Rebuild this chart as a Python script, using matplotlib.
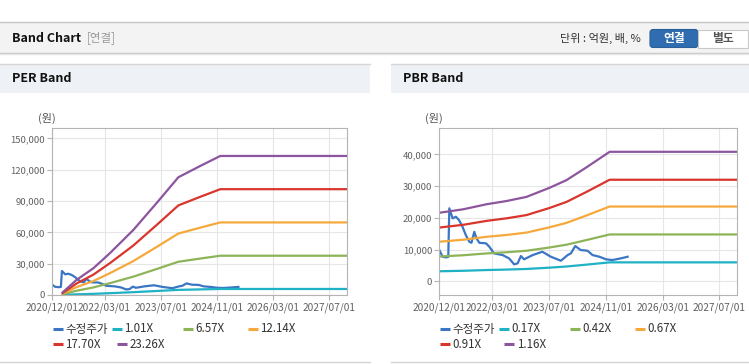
import matplotlib
matplotlib.use("Agg")
import matplotlib.pyplot as plt
from matplotlib.patches import Rectangle, FancyBboxPatch
import pandas as pd

plt.rcParams['font.family'] = ['Noto Sans CJK KR', 'DejaVu Sans']

W, H = 749, 364

# 수정주가 (같은 주가를 두 차트에 사용)
price_dates = ['2020-12-01', '2020-12-30', '2021-01-28', '2021-02-16', '2021-02-25',
               '2021-03-25', '2021-04-22', '2021-05-19', '2021-06-18', '2021-07-16',
               '2021-08-15', '2021-09-03', '2021-09-27', '2021-10-16', '2021-11-09',
               '2022-01-06', '2022-02-03', '2022-03-16', '2022-05-28', '2022-07-22',
               '2022-09-04', '2022-10-04', '2022-11-01', '2022-11-28', '2023-02-10',
               '2023-05-04', '2023-07-16', '2023-10-10', '2023-12-07', '2024-01-04',
               '2024-02-10', '2024-03-28', '2024-05-25', '2024-07-07', '2024-09-04',
               '2024-11-01', '2024-12-25', '2025-03-07', '2025-05-04']
price_vals = [9860, 7750, 7550, 7700, 23000,
              19840, 20350, 19300, 17200, 14600,
              12500, 12150, 15600, 13550, 12150,
              11970, 10900, 8800, 8280, 7240,
              5350, 5670, 7970, 6930, 8280,
              9320, 7750, 6490, 8280, 8820,
              11120, 9860, 9640, 8280, 7750,
              6930, 6710, 7240, 7750]

# PER band
per_dates = ['2021-03-04', '2021-07-01', '2021-11-24', '2022-04-16', '2022-08-10',
             '2022-11-06', '2023-05-25', '2023-12-01', '2024-06-07', '2024-11-28',
             '2027-12-01']
per_labels = ['1.01X', '6.57X', '12.14X', '17.70X', '23.26X']
per_101 = [110, 630, 1110, 1740, 2290, 2710, 3820, 4900, 5370, 5780, 5780]
per_657 = [720, 4070, 7230, 11300, 14890, 17610, 24830, 31860, 34910, 37630, 37630]
per_1214 = [1340, 7530, 13350, 20880, 27510, 32540, 45890, 58880, 64510, 69530, 69530]
per_1770 = [1950, 10970, 19470, 30440, 40110, 47440, 66910, 85850, 94060, 101370, 101370]
per_2326 = [2560, 14420, 25590, 40010, 52710, 62340, 87920, 112810, 123600, 133210, 133210]

# PBR band
pbr_dates = ['2020-12-01', '2021-06-25', '2022-01-13', '2022-07-01', '2022-12-19',
             '2023-07-07', '2023-11-28', '2024-05-16', '2024-12-01', '2027-12-01']
pbr_labels = ['0.17X', '0.42X', '0.67X', '0.91X', '1.16X']
pbr_017 = [3170, 3330, 3560, 3710, 3900, 4320, 4680, 5260, 5980, 5980]
pbr_042 = [7820, 8220, 8800, 9160, 9630, 10680, 11550, 13000, 14770, 14770]
pbr_067 = [12480, 13110, 14040, 14610, 15360, 17040, 18430, 20740, 23560, 23560]
pbr_091 = [16940, 17810, 19060, 19850, 20870, 23140, 25030, 28160, 32000, 32000]
pbr_116 = [21600, 22700, 24300, 25300, 26600, 29500, 31900, 35900, 40800, 40800]

xtick_labels = ['2020/12/01', '2022/03/01', '2023/07/01', '2024/11/01', '2026/03/01', '2027/07/01']
per_yticks = [0, 30000, 60000, 90000, 120000, 150000]
pbr_yticks = [0, 10000, 20000, 30000, 40000]

price_color = '#3a76c4'
band_colors = ['#1fb1c4', '#8db458', '#f5a93c', '#d9352c', '#8c559d']


def px_axes(fig, x0, y0, x1, y1):
    return fig.add_axes([x0 / W, 1 - y1 / H, (x1 - x0) / W, (y1 - y0) / H])


def style_axes(ax, ylim, yticks):
    ax.set_xlim(pd.Timestamp('2020-12-01'), pd.Timestamp('2027-12-01'))
    ax.set_ylim(*ylim)
    ax.set_xticks(pd.to_datetime(xtick_labels, format='%Y/%m/%d'))
    ax.set_xticklabels(xtick_labels, fontsize=7.3)
    ax.set_yticks(yticks)
    ax.set_yticklabels([f"{v:,}" for v in yticks], fontsize=6.8)
    ax.grid(color='#e6e6e6', lw=0.8)
    ax.set_axisbelow(True)
    for s in ax.spines.values():
        s.set_color('#b4b4b4')
        s.set_linewidth(0.8)
    ax.tick_params(axis='both', color='#b4b4b4', labelcolor='#606060', length=3.5, width=0.8)
    ax.tick_params(axis='y', pad=1.5)
    ax.tick_params(axis='x', pad=2)


fig = plt.figure(figsize=(W / 100, H / 100), dpi=100)

# 배경 / 헤더 (픽셀 좌표)
bg = fig.add_axes([0, 0, 1, 1])
bg.set_xlim(0, W)
bg.set_ylim(H, 0)
bg.axis('off')

bg.add_patch(Rectangle((0, 22), W, 30.5, fc='#f3f3f3', ec='none'))
bg.plot([0, W], [22, 22], color='#c5c5c5', lw=1)
bg.plot([0, W], [52.5, 52.5], color='#c8c8c8', lw=1)
bg.plot([0, W], [53.5, 53.5], color='#e6e6e6', lw=1)
bg.text(12, 38, 'Band Chart', fontsize=9, fontweight='bold', color='#111111', va='center')
bg.text(87, 38, '[연결]', fontsize=8.3, color='#999999', va='center')
bg.text(641, 38, '단위 : 억원, 배, %', fontsize=8, color='#333333', va='center', ha='right')
bg.add_patch(FancyBboxPatch((650, 29.5), 48, 18, boxstyle='round,pad=0,rounding_size=3',
                            fc='#2f6db0', ec='#2a5f9a', lw=0.8))
bg.text(674, 38.5, '연결', fontsize=8.5, fontweight='bold', color='white', va='center', ha='center')
bg.add_patch(Rectangle((698, 29.5), 50, 18, fc='white', ec='#c8c8c8', lw=0.8))
bg.text(723, 38.5, '별도', fontsize=8.5, fontweight='bold', color='#555555', va='center', ha='center')

for x0, x1, title in [(0, 370, 'PER Band'), (391, W, 'PBR Band')]:
    bg.add_patch(Rectangle((x0, 64), x1 - x0, 29, fc='#eef1f6', ec='none'))
    bg.plot([x0, x1], [64, 64], color='#d6d6d6', lw=1)
    bg.plot([x0, x1], [362, 362], color='#d4d4d4', lw=1)
    bg.text(x0 + 12, 79, title, fontsize=9, fontweight='bold', color='#111111', va='center')

bg.text(47, 118, '(원)', fontsize=8, color='#555555', ha='center', va='center')
bg.text(434, 118, '(원)', fontsize=8, color='#555555', ha='center', va='center')

# PER 차트
ax1 = px_axes(fig, 52, 128, 347, 295)
ax1.plot(pd.to_datetime(price_dates), price_vals, color=price_color, lw=1.6)
for vals, c in zip([per_101, per_657, per_1214, per_1770, per_2326], band_colors):
    ax1.plot(pd.to_datetime(per_dates), vals, color=c, lw=1.6)
style_axes(ax1, (0, 160000), per_yticks)

# PBR 차트
ax2 = px_axes(fig, 439.3, 128.3, 737.3, 295)
ax2.plot(pd.to_datetime(price_dates), price_vals, color=price_color, lw=1.6)
for vals, c in zip([pbr_017, pbr_042, pbr_067, pbr_091, pbr_116], band_colors):
    ax2.plot(pd.to_datetime(pbr_dates), vals, color=c, lw=1.6)
style_axes(ax2, (-4300, 48200), pbr_yticks)


# 범례
def draw_legend(left, labels):
    names = ['수정주가'] + labels
    colors = [price_color] + band_colors
    slots = [(1, 329), (60, 329), (131, 329), (196, 329), (1, 344), (65, 344)]
    for (dx, y), name, c in zip(slots, names, colors):
        x = left + dx
        bg.plot([x, x + 10], [y, y], color=c, lw=2.2, solid_capstyle='butt')
        bg.text(x + 12.5, y, name, fontsize=8.3, color='#333333', va='center')


draw_legend(52, per_labels)
draw_legend(439.3, pbr_labels)

fig.savefig('out.png', dpi=100)
